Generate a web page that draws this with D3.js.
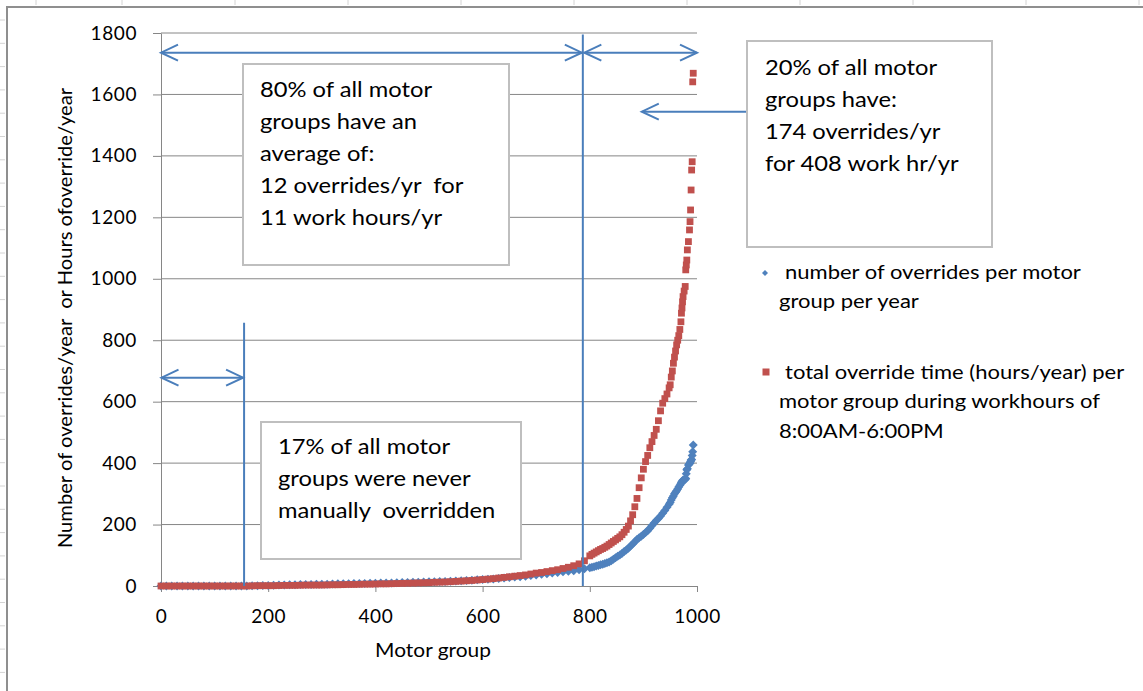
<!DOCTYPE html>
<html>
<head>
<meta charset="utf-8">
<script src="https://cdn.jsdelivr.net/npm/d3@7"></script>
<style>
  body { margin: 0; background: #fff; }
  text { font-family: Lato, "Open Sans", sans-serif; fill: #000; }
</style>
</head>
<body>
<svg id="chart" width="1143" height="691"></svg>
<script>
// motor groups, sorted by override count (x values shared by both series)
var motorGroup = [
    0, 10, 20, 30, 40, 50, 60, 70, 80, 90,
    100, 110, 120, 130, 140, 150, 160, 170, 180, 190,
    200, 210, 220, 230, 240, 250, 260, 270, 280, 290,
    300, 310, 320, 330, 340, 350, 360, 370, 380, 390,
    400, 410, 420, 430, 440, 450, 460, 470, 480, 490,
    500, 510, 520, 530, 540, 550, 560, 570, 580, 590,
    600, 610, 620, 630, 640, 650, 660, 670, 680, 690,
    700, 710, 720, 730, 740, 750, 760, 770, 780, 790,
    800,
    804, 808, 812, 816, 820, 824, 828, 832, 836, 840,
    844, 848, 852, 856, 860, 864, 868, 872, 876, 880,
    884, 888, 892, 896, 900, 904, 908, 912, 916, 920,
    924, 928, 932, 936, 940, 944, 948,
    950, 952, 954, 956, 958, 960, 962, 964, 966, 968,
    970, 971, 972, 973, 974, 976, 978, 979, 980, 981,
    982, 984, 986, 987, 988, 989, 990, 991, 992, 993
]

var overridesPerYear = [
    0, 0, 0, 0, 0, 0, 0, 0, 0, 0,
    0, 0, 0, 0, 0, 0, 0, 1, 1, 2,
    2, 2.5, 3, 3.5, 4, 4, 4.5, 5, 5, 5.5,
    6, 6, 6.5, 7, 7, 7.5, 8, 8, 8.5, 9,
    9, 9.5, 10, 10, 10.5, 11, 11.5, 12, 12.5, 13,
    13.5, 14, 14.5, 15, 15.5, 16, 17, 18, 19, 20,
    21, 22, 23, 24.5, 26, 27.5, 29, 30.5, 32, 34,
    36, 38, 40, 42, 44, 46, 48, 50, 53, 56,
    59,
    61, 63, 65, 67, 69, 71, 73, 76, 78, 82,
    87, 92, 97, 101, 106, 112, 117, 123, 130, 137,
    144, 151, 157, 162, 168, 174, 180, 188, 197, 205,
    213, 220, 228, 237, 246, 256, 266,
    272, 280, 287, 293, 300, 305, 310, 316, 322, 328,
    333, 337, 340, 342, 345, 346, 347, 350, 365, 378,
    382, 394, 398, 400, 405, 410, 412, 425, 437, 459
]

var hoursPerYear = [
    0, 0, 0, 0, 0, 0, 0, 0, 0, 0,
    0, 0, 0, 0, 0, 0, 0, 0.5, 1, 1,
    1, 1, 1.5, 2, 2, 2, 2.5, 3, 3, 3,
    3, 3.5, 4, 4, 4.5, 5, 5, 5.5, 6, 6,
    6.5, 7, 7, 7.5, 8, 8.5, 9, 9.5, 10, 10.5,
    11, 12, 12.5, 13, 14, 15, 16, 17, 18, 19.5,
    21, 22.5, 24, 26, 28, 30, 32, 34, 36, 39,
    42, 44, 47, 50, 53, 57, 61, 66, 72, 82,
    98,
    103, 107, 111, 115, 119, 122, 126, 130, 135, 140,
    145, 150, 155, 160, 167, 175, 184, 195, 212, 232,
    258, 285, 320, 352, 380, 405, 425, 450, 470, 490,
    510, 538, 570, 595, 610, 625, 645,
    655, 680, 700, 725, 745, 765, 785, 800, 815, 835,
    860, 888, 905, 925, 942, 960, 975, 1029, 1045, 1061,
    1094, 1121, 1159, 1186, 1224, 1289, 1354, 1381, 1641, 1669
]

var yTicks = [0, 200, 400, 600, 800, 1000, 1200, 1400, 1600, 1800]
var xTicks = [0, 200, 400, 600, 800, 1000]

var seriesNames = [
    ["number of overrides per motor", "group per year"],
    ["total override time (hours/year) per", "motor group during workhours of", "8:00AM-6:00PM"]
]

// annotation positions (motor group / value units)
var split80 = 787, split17 = 155
var noteTexts = [
    ["80% of all motor", "groups have an", "average of:", "12 overrides/yr  for", "11 work hours/yr"],
    ["20% of all motor", "groups have:", "174 overrides/yr", "for 408 work hr/yr"],
    ["17% of all motor", "groups were never", "manually  overridden"]
]

var blue = "#4f81bd", red = "#c0504d", lineBlue = "#4a7ebb", gridColour = "#868686"

var svg = d3.select("#chart")

var x = d3.scaleLinear().domain([0, 1000]).range([161, 697])
var y = d3.scaleLinear().domain([0, 1800]).range([586, 33])

// the old office renderer draws text wider than Lato, so stretch it a bit
function wideText(parent, px, py, sx, extra) {
    return parent.append("g")
        .attr("transform", "translate(" + px + "," + py + ")" + (extra || "") + " scale(" + sx + ",1)")
        .append("text")
}

// faint spreadsheet cell marks round the chart object
svg.append("g").selectAll("line")
    .data([36, 122, 235, 348, 461, 574, 687, 800, 913, 1026, 1139])
    .join("line")
    .attr("x1", function(d) { return d }).attr("x2", function(d) { return d })
    .attr("y1", 0).attr("y2", 5)
    .attr("stroke", "#d4d4d4")
svg.append("g").selectAll("line")
    .data(d3.range(20, 691, 23.3))
    .join("line")
    .attr("y1", function(d) { return d }).attr("y2", function(d) { return d })
    .attr("x1", 0).attr("x2", 5)
    .attr("stroke", "#d4d4d4")

// chart object border
svg.append("path")
    .attr("d", "M7,691 L7,7 L1143,7")
    .attr("fill", "none")
    .attr("stroke", "#8f8f8f")
    .attr("stroke-width", 2)

// gridlines
svg.append("g").selectAll("line")
    .data(yTicks.slice(1))
    .join("line")
    .attr("x1", x(0)).attr("x2", x(1000))
    .attr("y1", function(d) { return y(d) }).attr("y2", function(d) { return y(d) })
    .attr("stroke", gridColour)
    .attr("stroke-width", 1)

// axes
svg.append("g")
    .attr("transform", "translate(" + x(0) + ",0)")
    .call(d3.axisLeft(y).tickValues(yTicks).tickFormat(d3.format("d"))
        .tickSize(8).tickSizeOuter(0).tickPadding(16))
svg.append("g")
    .attr("transform", "translate(0," + y(0) + ")")
    .call(d3.axisBottom(x).tickValues(xTicks).tickFormat(d3.format("d"))
        .tickSize(6).tickSizeOuter(0).tickPadding(18))

svg.selectAll(".domain, .tick line").attr("stroke", gridColour)
svg.selectAll(".tick text")
    .attr("font-family", "Lato, sans-serif")
    .attr("font-size", 19)
    .attr("letter-spacing", 0.6)
    .attr("fill", "#000")

// axis titles
wideText(svg, 433, 657, 1.1)
    .attr("text-anchor", "middle")
    .attr("font-size", 19)
    .text("Motor group")

wideText(svg, 72, 318, 1.09, " rotate(-90)")
    .attr("text-anchor", "middle")
    .attr("font-size", 18.5)
    .attr("xml:space", "preserve")
    .style("white-space", "pre")
    .text("Number of overrides/year  or Hours ofoverride/year")

// series: blue diamonds first, red squares on top
var pts = motorGroup.map(function(g, i) {
    return { group: g, overrides: overridesPerYear[i], hours: hoursPerYear[i] }
})

var diamond = function(cx, cy, r) {
    return "M" + cx + "," + (cy - r) + "L" + (cx + r) + "," + cy + "L" + cx + "," + (cy + r) + "L" + (cx - r) + "," + cy + "Z"
}

svg.append("g").selectAll("path")
    .data(pts)
    .join("path")
    .attr("d", function(d) { return diamond(x(d.group), y(d.overrides), 4.5) })
    .attr("fill", blue)

svg.append("g").selectAll("rect")
    .data(pts)
    .join("rect")
    .attr("x", function(d) { return x(d.group) - 3.4 })
    .attr("y", function(d) { return y(d.hours) - 3.4 })
    .attr("width", 6.8).attr("height", 6.8)
    .attr("fill", red)

// annotation lines and arrows
var ann = svg.append("g")
    .attr("stroke", lineBlue)
    .attr("stroke-width", 2)
    .attr("fill", "none")

function chevron(px, py, dir) {
    // dir = 1 : tip points left, dir = -1 : tip points right
    ann.append("path")
        .attr("d", "M" + (px + dir * 17) + "," + (py - 8) + "L" + px + "," + py + "L" + (px + dir * 17) + "," + (py + 8))
}

function hArrow(x1, x2, py, leftHead, rightHead) {
    ann.append("line").attr("x1", x1).attr("x2", x2).attr("y1", py).attr("y2", py)
    if (leftHead) chevron(x1, py, 1)
    if (rightHead) chevron(x2, py, -1)
}

ann.append("line")
    .attr("x1", x(split80)).attr("x2", x(split80))
    .attr("y1", y(1795)).attr("y2", y(0))
ann.append("line")
    .attr("x1", x(split17)).attr("x2", x(split17))
    .attr("y1", y(857)).attr("y2", y(0))

hArrow(x(0), x(split80) - 1, y(1736), true, true)
hArrow(x(split80) + 1.5, x(1000), y(1736), true, true)
hArrow(x(0) + 0.5, x(split17) - 1, y(678), true, true)
hArrow(x(897), 747, y(1544), true, false)

// text boxes
var boxes = [
    { x: 243, y: 64, w: 266, h: 201, tx: 260, ty: 97, lines: noteTexts[0] },
    { x: 747, y: 41, w: 245, h: 206, tx: 765, ty: 75, lines: noteTexts[1] },
    { x: 261, y: 422, w: 260, h: 137, tx: 278, ty: 454, lines: noteTexts[2] }
]

boxes.forEach(function(b) {
    var g = svg.append("g")
    g.append("rect")
        .attr("x", b.x).attr("y", b.y)
        .attr("width", b.w).attr("height", b.h)
        .attr("fill", "#fff")
        .attr("stroke", "#bfbfbf")
        .attr("stroke-width", 2)
    wideText(g, b.tx, b.ty, 1.13)
        .attr("font-size", 21)
        .attr("xml:space", "preserve")
        .style("white-space", "pre")
        .selectAll("tspan")
        .data(b.lines)
        .join("tspan")
        .attr("x", 0)
        .attr("y", function(d, i) { return i * 32 })
        .text(function(d) { return d })
})

// legend
var legend = svg.append("g")
legend.append("path")
    .attr("d", diamond(765, 273, 3))
    .attr("fill", blue)
legend.append("rect")
    .attr("x", 762.5).attr("y", 368.5)
    .attr("width", 7).attr("height", 7)
    .attr("fill", red)

var legendRows = [
    { top: 279, lines: seriesNames[0] },
    { top: 379, lines: seriesNames[1] }
]
legendRows.forEach(function(r) {
    wideText(legend, 779, r.top, 1.1)
        .attr("font-size", 20)
        .selectAll("tspan")
        .data(r.lines)
        .join("tspan")
        .attr("x", function(d, i) { return i == 0 ? 5.5 : 0 })
        .attr("y", function(d, i) { return i * 29.3 })
        .text(function(d) { return d })
})
</script>
</body>
</html>
